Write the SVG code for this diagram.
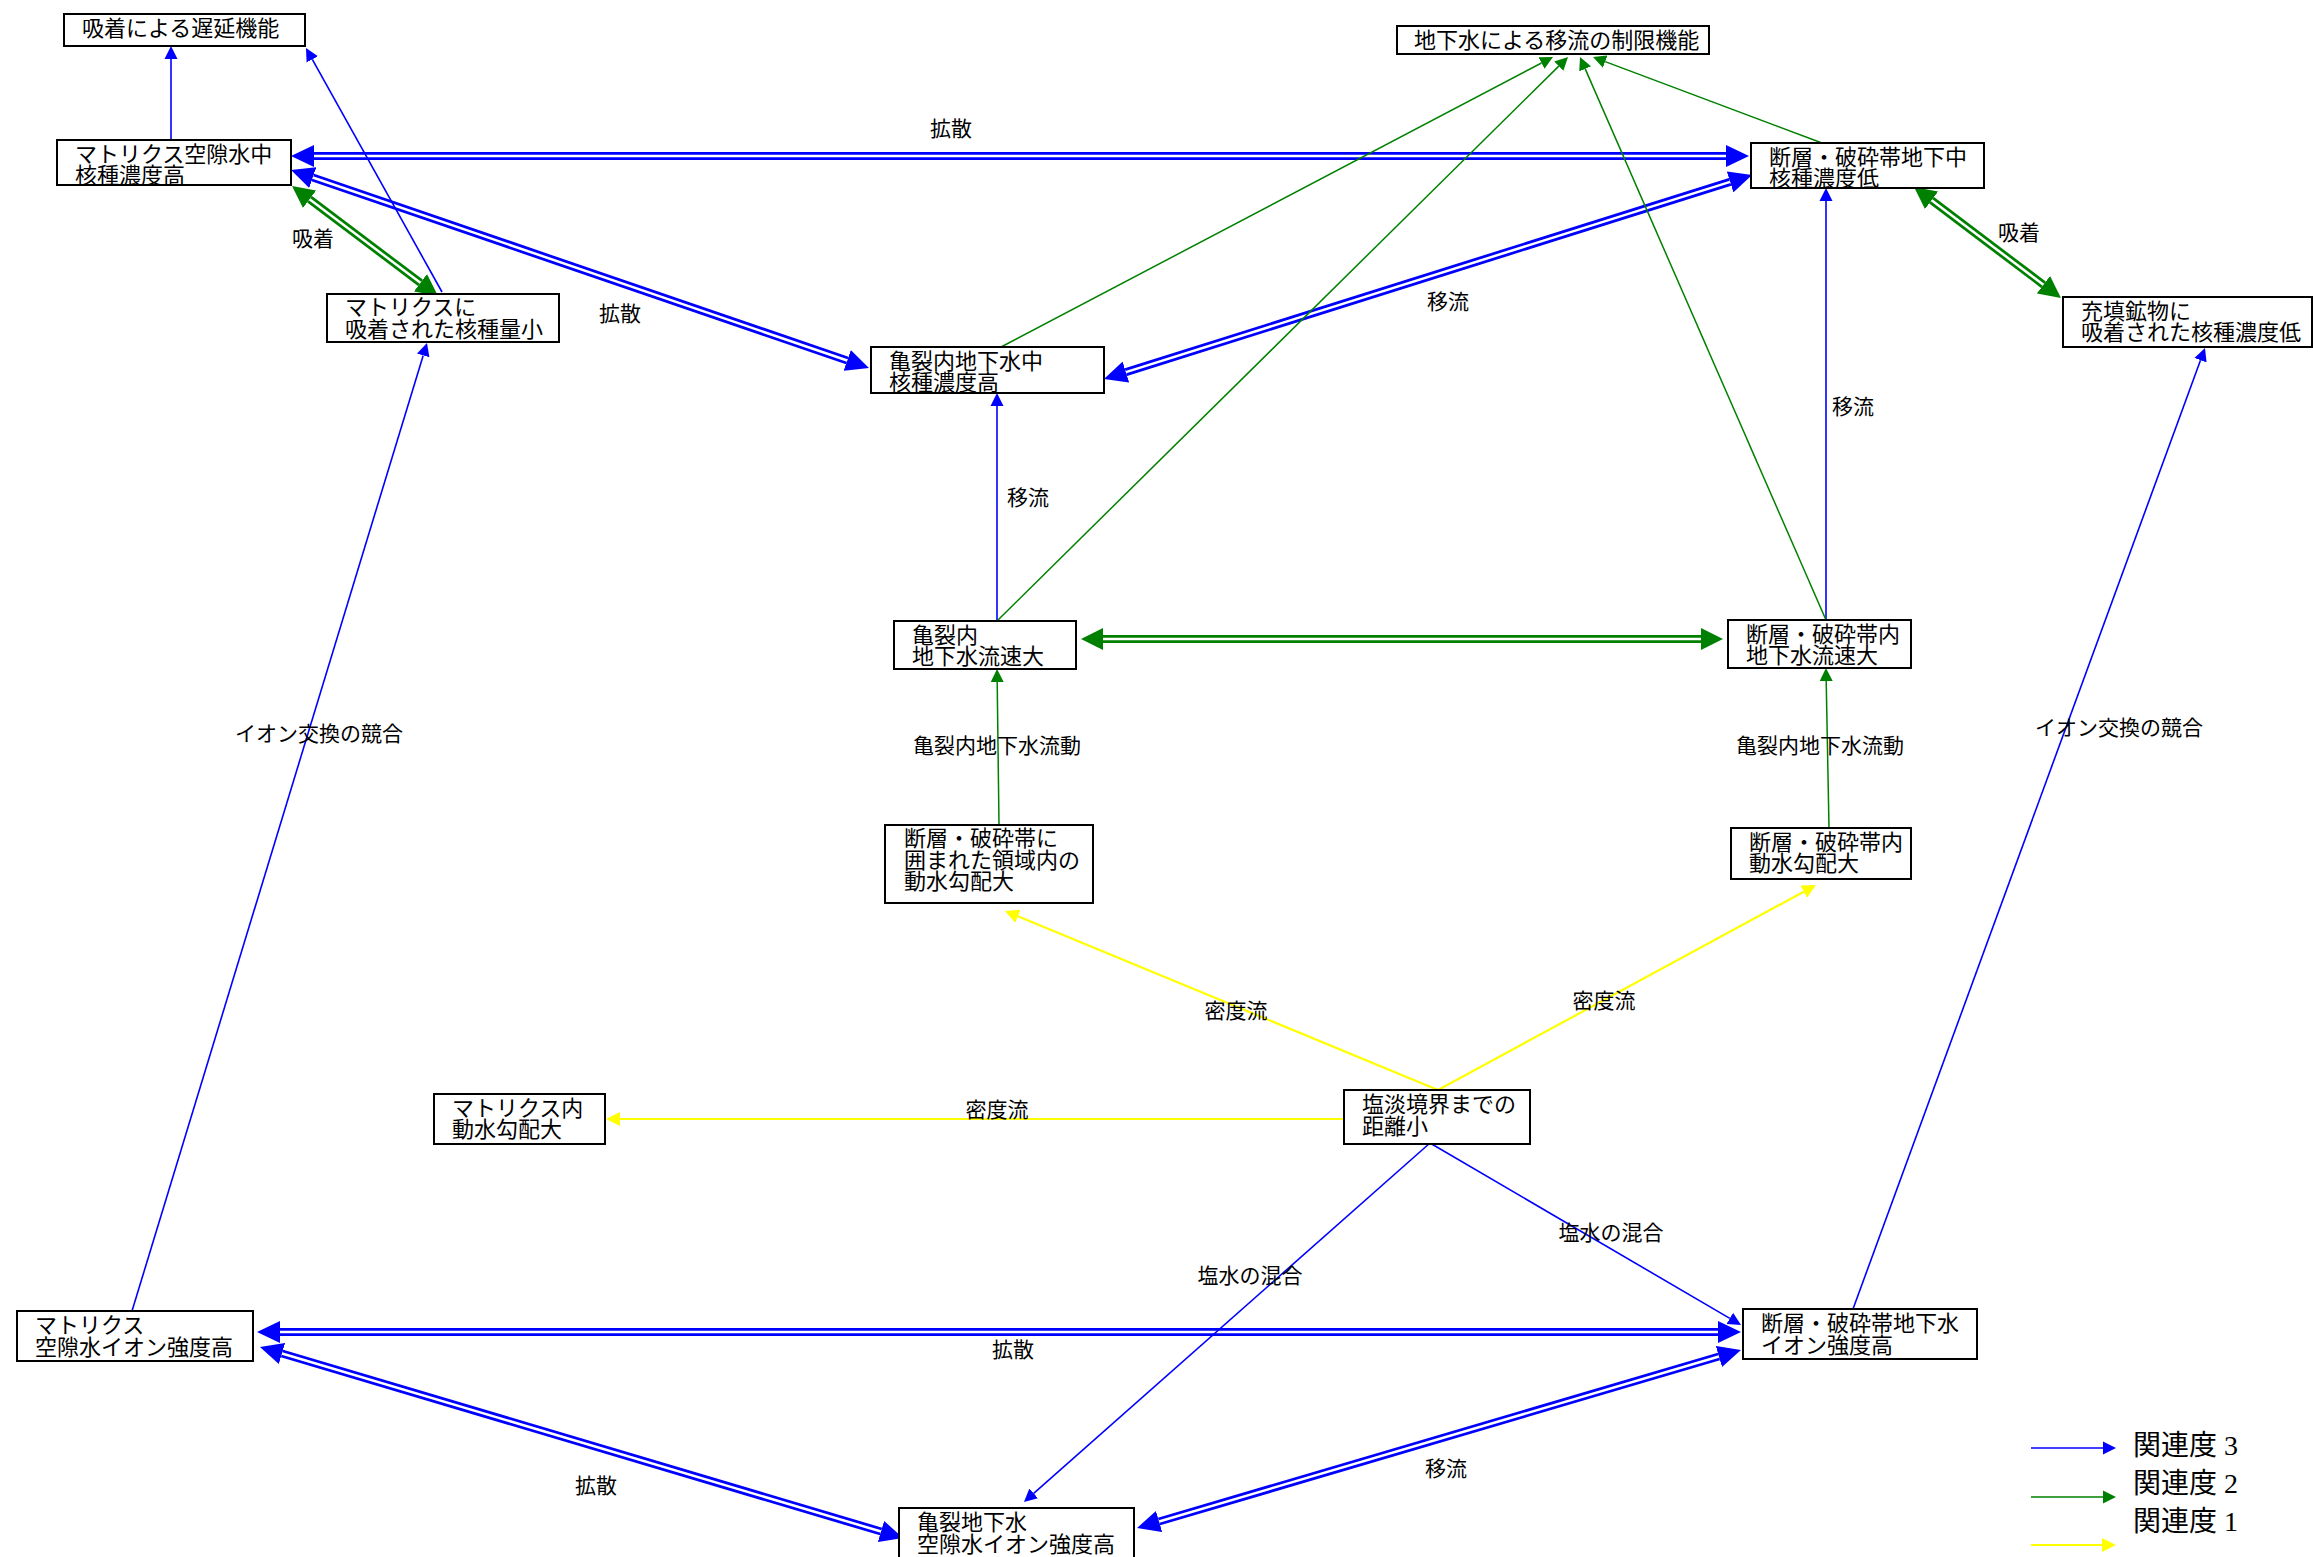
<svg xmlns="http://www.w3.org/2000/svg" width="2313" height="1557" viewBox="0 0 2313 1557">
<style>
.node rect{fill:#fff;stroke:#000;stroke-width:2}
.node text{font-family:"Noto Sans CJK JP","Noto Sans",sans-serif;font-size:22px;fill:#000}
.lbl{font-family:"Noto Sans CJK JP","Noto Sans",sans-serif;font-size:21px;fill:#000;text-anchor:middle}
.leg{font-family:"Liberation Serif","Noto Sans CJK JP",serif;font-size:28px;fill:#000}
.b{stroke:#0000ff;stroke-width:1.6;fill:none;marker-end:url(#ab)}
.g{stroke:#008000;stroke-width:1.5;fill:none;marker-end:url(#ag)}
.y{stroke:#ffff00;stroke-width:2.2;fill:none;marker-end:url(#ay)}
.bd{stroke:#0000ff;stroke-width:8;fill:none;marker-start:url(#abd);marker-end:url(#abd)}
.gd{stroke:#008000;stroke-width:8;fill:none;marker-start:url(#agd);marker-end:url(#agd)}
.w{stroke:#fff;stroke-width:2.5;fill:none}
</style>
<defs>
<marker id="ab" markerUnits="userSpaceOnUse" viewBox="0 -7 13 14" markerWidth="13" markerHeight="14" refX="0" refY="0" orient="auto"><path d="M0,-6.5 L13,0 L0,6.5 z" fill="#0000ff"/></marker>
<marker id="ag" markerUnits="userSpaceOnUse" viewBox="0 -7 13 14" markerWidth="13" markerHeight="14" refX="0" refY="0" orient="auto"><path d="M0,-6.5 L13,0 L0,6.5 z" fill="#008000"/></marker>
<marker id="ay" markerUnits="userSpaceOnUse" viewBox="0 -7 14 14" markerWidth="14" markerHeight="14" refX="0" refY="0" orient="auto"><path d="M0,-7 L14,0 L0,7 z" fill="#ffff00"/></marker>
<marker id="abd" markerUnits="userSpaceOnUse" viewBox="0 -11 23 22" markerWidth="23" markerHeight="22" refX="0" refY="0" orient="auto-start-reverse"><path d="M0,-11 L23,0 L0,11 z" fill="#0000ff"/></marker>
<marker id="agd" markerUnits="userSpaceOnUse" viewBox="0 -11 22 22" markerWidth="22" markerHeight="22" refX="0" refY="0" orient="auto-start-reverse"><path d="M0,-11 L22,0 L0,11 z" fill="#008000"/></marker>
</defs>
<rect width="2313" height="1557" fill="#fff"/>
<g id="connectors">
<path class="bd" d="M314,156 L1726,156"/><path class="w" d="M314,156 L1726,156"/>
<path class="bd" d="M312.8,177.5 L847.2,360.5"/><path class="w" d="M312.8,177.5 L847.2,360.5"/>
<path class="bd" d="M1125.9,372.1 L1730.1,181.9"/><path class="w" d="M1125.9,372.1 L1730.1,181.9"/>
<path class="bd" d="M280,1332 L1718,1332"/><path class="w" d="M280,1332 L1718,1332"/>
<path class="bd" d="M282,1353.5 L881,1531.5"/><path class="w" d="M282,1353.5 L881,1531.5"/>
<path class="bd" d="M1159.1,1521.5 L1718.9,1356.5"/><path class="w" d="M1159.1,1521.5 L1718.9,1356.5"/>
<path class="gd" d="M309.6,199.2 L420.4,282.8"/><path class="w" d="M309.6,199.2 L420.4,282.8"/>
<path class="gd" d="M1931.6,200.3 L2043.4,284.7"/><path class="w" d="M1931.6,200.3 L2043.4,284.7"/>
<path class="gd" d="M1103,639 L1701,639"/><path class="w" d="M1103,639 L1701,639"/>
<path class="b" d="M171,140 L171,59"/>
<path class="b" d="M442,292 L312.3,59.4"/>
<path class="b" d="M132,1311 L423.2,355.4"/>
<path class="b" d="M997,621 L997,406"/>
<path class="b" d="M1826,620 L1826,201"/>
<path class="b" d="M1853,1309 L2200.5,360.2"/>
<path class="b" d="M1430,1143 L1033.7,1493.4"/>
<path class="b" d="M1430,1143 L1729.8,1318.4"/>
<path class="g" d="M1001,347 L1541.5,63"/>
<path class="g" d="M997,621 L1558.8,66.1"/>
<path class="g" d="M1826,620 L1585.2,68.9"/>
<path class="g" d="M1822,143 L1605.2,61.6"/>
<path class="g" d="M999,825 L997.2,682"/>
<path class="g" d="M1829,828 L1826.2,681"/>
<path class="y" d="M1343,1119 L620,1119"/>
<path class="y" d="M1438,1090 L1017.9,916.3"/>
<path class="y" d="M1438,1090 L1803.7,891.7"/>
<text class="lbl" x="313" y="246">吸着</text>
<text class="lbl" x="951" y="136">拡散</text>
<text class="lbl" x="620" y="321">拡散</text>
<text class="lbl" x="1448" y="309">移流</text>
<text class="lbl" x="2019" y="239.5">吸着</text>
<text class="lbl" x="1853" y="414">移流</text>
<text class="lbl" x="1028" y="505">移流</text>
<text class="lbl" x="997" y="753">亀裂内地下水流動</text>
<text class="lbl" x="1820" y="753">亀裂内地下水流動</text>
<text class="lbl" x="319" y="741">イオン交換の競合</text>
<text class="lbl" x="2119" y="735">イオン交換の競合</text>
<text class="lbl" x="1236" y="1018">密度流</text>
<text class="lbl" x="1604" y="1008">密度流</text>
<text class="lbl" x="997" y="1117">密度流</text>
<text class="lbl" x="1250" y="1283">塩水の混合</text>
<text class="lbl" x="1611" y="1240">塩水の混合</text>
<text class="lbl" x="1013" y="1357">拡散</text>
<text class="lbl" x="596" y="1493">拡散</text>
<text class="lbl" x="1446" y="1476">移流</text>
</g>
<g id="n1" class="node"><rect x="64" y="14" width="241" height="32"/><text x="82" y="36">吸着による遅延機能</text></g>
<g id="n2" class="node"><rect x="57" y="140" width="234" height="45"/><text x="75" y="161.5"><tspan x="75">マトリクス空隙水中</tspan><tspan x="75" dy="21.5">核種濃度高</tspan></text></g>
<g id="n3" class="node"><rect x="327" y="294" width="232" height="48"/><text x="345" y="315"><tspan x="345">マトリクスに</tspan><tspan x="345" dy="21.5">吸着された核種量小</tspan></text></g>
<g id="n4" class="node"><rect x="1397" y="26" width="312" height="28"/><text x="1414" y="48">地下水による移流の制限機能</text></g>
<g id="n5" class="node"><rect x="871" y="347" width="233" height="46"/><text x="889" y="368.5"><tspan x="889">亀裂内地下水中</tspan><tspan x="889" dy="21.5">核種濃度高</tspan></text></g>
<g id="n6" class="node"><rect x="1751" y="143" width="233" height="45"/><text x="1769" y="164.5"><tspan x="1769">断層・破砕帯地下中</tspan><tspan x="1769" dy="21.5">核種濃度低</tspan></text></g>
<g id="n7" class="node"><rect x="2063" y="297" width="249" height="50"/><text x="2081" y="318.5"><tspan x="2081">充填鉱物に</tspan><tspan x="2081" dy="21.5">吸着された核種濃度低</tspan></text></g>
<g id="n8" class="node"><rect x="894" y="621" width="182" height="48"/><text x="912" y="642.5"><tspan x="912">亀裂内</tspan><tspan x="912" dy="21.5">地下水流速大</tspan></text></g>
<g id="n9" class="node"><rect x="1728" y="620" width="183" height="48"/><text x="1746" y="641.5"><tspan x="1746">断層・破砕帯内</tspan><tspan x="1746" dy="21.5">地下水流速大</tspan></text></g>
<g id="n10" class="node"><rect x="885" y="825" width="208" height="78"/><text x="904" y="846"><tspan x="904">断層・破砕帯に</tspan><tspan x="904" dy="21.5">囲まれた領域内の</tspan><tspan x="904" dy="21.5">動水勾配大</tspan></text></g>
<g id="n11" class="node"><rect x="1731" y="828" width="180" height="51"/><text x="1749" y="849.5"><tspan x="1749">断層・破砕帯内</tspan><tspan x="1749" dy="21.5">動水勾配大</tspan></text></g>
<g id="n12" class="node"><rect x="434" y="1094" width="171" height="50"/><text x="452" y="1115.5"><tspan x="452">マトリクス内</tspan><tspan x="452" dy="21.5">動水勾配大</tspan></text></g>
<g id="n13" class="node"><rect x="1344" y="1090" width="186" height="54"/><text x="1362" y="1112"><tspan x="1362">塩淡境界までの</tspan><tspan x="1362" dy="21.5">距離小</tspan></text></g>
<g id="n14" class="node"><rect x="17" y="1311" width="236" height="50"/><text x="35" y="1333"><tspan x="35">マトリクス</tspan><tspan x="35" dy="21.5">空隙水イオン強度高</tspan></text></g>
<g id="n15" class="node"><rect x="899" y="1508" width="235" height="62"/><text x="917" y="1530"><tspan x="917">亀裂地下水</tspan><tspan x="917" dy="21.5">空隙水イオン強度高</tspan></text></g>
<g id="n16" class="node"><rect x="1743" y="1309" width="234" height="50"/><text x="1761" y="1331"><tspan x="1761">断層・破砕帯地下水</tspan><tspan x="1761" dy="21.5">イオン強度高</tspan></text></g>
<g id="legend">
<path class="b" d="M2031,1448 L2103,1448"/>
<path class="g" d="M2031,1497 L2103,1497"/>
<path class="y" d="M2031,1545 L2102,1545"/>
<text class="leg" x="2133" y="1455">関連度 3</text>
<text class="leg" x="2133" y="1493">関連度 2</text>
<text class="leg" x="2133" y="1531">関連度 1</text>
</g>
</svg>
